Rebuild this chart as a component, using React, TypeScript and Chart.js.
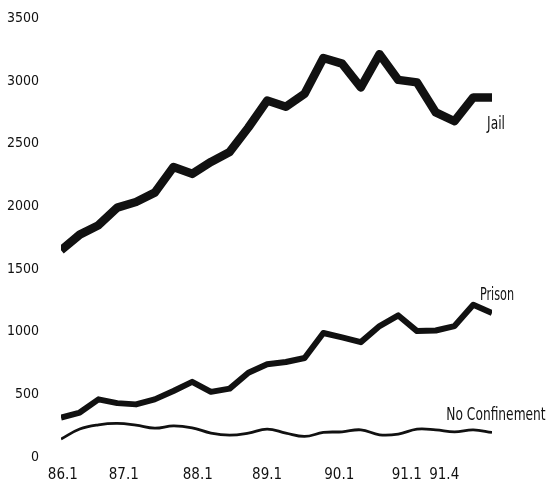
import React, { useEffect, useRef } from "react";
import { Chart, registerables } from "chart.js";

Chart.register(...registerables);

// Quarterly periods (x categories)
const quarters = [
  "86.1", "86.2", "86.3", "86.4",
  "87.1", "87.2", "87.3", "87.4",
  "88.1", "88.2", "88.3", "88.4",
  "89.1", "89.2", "89.3", "89.4",
  "90.1", "90.2", "90.3", "90.4",
  "91.1", "91.2", "91.3", "91.4",
];

const jail = [
  1650, 1775, 1850, 1990, 2035, 2110, 2315, 2260, 2355, 2435, 2630, 2845,
  2795, 2900, 3185, 3140, 2950, 3215, 3010, 2990, 2750, 2680, 2870, 2870,
];
const prison = [
  315, 355, 460, 430, 420, 460, 527, 600, 520, 546, 673, 740,
  758, 790, 990, 955, 917, 1045, 1130, 1005, 1010, 1045, 1215, 1150,
];
const noConfinement = [
  143, 223, 257, 268, 254, 230, 249, 233, 191, 175, 191, 223,
  191, 164, 196, 201, 217, 177, 183, 223, 217, 201, 217, 196,
];

const seriesNames = ["Jail", "Prison", "No Confinement"];

const yTickValues = [0, 500, 1000, 1500, 2000, 2500, 3000, 3500];
const xTickLabels = ["86.1", "87.1", "88.1", "89.1", "90.1", "91.1", "91.4"];
// where the printed tick labels sit along the quarter axis (as printed in the source)
const xTickAt = [0.1, 3.35, 7.3, 11.0, 14.85, 18.45, 20.45];

const FONT = "'Liberation Sans Narrow', 'DejaVu Sans Condensed', 'Arial Narrow', sans-serif";
const INK = "#111111";

const labelPlugin = {
  id: "seriesLabels",
  afterDatasetsDraw(chart: any) {
    const ctx = chart.ctx;
    const offsets = [
      { dx: 4, dy: 27 },
      { dx: 5, dy: -17 },
      { dx: 4, dy: -17 },
    ];
    const sx = [0.85, 0.78, 0.85];
    chart.data.datasets.forEach((ds: any, i: number) => {
      const meta = chart.getDatasetMeta(i);
      const pt = meta.data[meta.data.length - 1];
      if (!pt) return;
      ctx.save();
      ctx.fillStyle = INK;
      ctx.font = `16px ${FONT}`;
      ctx.textAlign = "center";
      ctx.textBaseline = "middle";
      ctx.translate(pt.x + offsets[i].dx, pt.y + offsets[i].dy);
      ctx.scale(sx[i], 1.05);
      ctx.fillText(ds.label, 0, 0);
      ctx.restore();
    });
  },
};

export default function App() {
  const ref = useRef<HTMLCanvasElement | null>(null);

  useEffect(() => {
    if (!ref.current) return;
    const toPts = (arr: number[]) => arr.map((v, i) => ({ x: i, y: v }));
    const chart = new Chart(ref.current, {
      type: "line",
      data: {
        labels: quarters,
        datasets: [
          {
            label: seriesNames[0],
            data: toPts(jail),
            borderColor: INK,
            borderWidth: 8.5,
            pointRadius: 0,
            tension: 0,
            borderJoinStyle: "round",
            borderCapStyle: "butt",
          },
          {
            label: seriesNames[1],
            data: toPts(prison),
            borderColor: INK,
            borderWidth: 6,
            pointRadius: 0,
            tension: 0,
            borderJoinStyle: "round",
            borderCapStyle: "butt",
          },
          {
            label: seriesNames[2],
            data: toPts(noConfinement),
            borderColor: INK,
            borderWidth: 2.8,
            pointRadius: 0,
            tension: 0.4,
            borderJoinStyle: "round",
          },
        ],
      },
      options: {
        animation: false,
        responsive: false,
        layout: { padding: { top: 18.5, right: 55, left: 0, bottom: 0 } },
        plugins: {
          legend: { display: false },
          tooltip: { enabled: false },
        },
        scales: {
          x: {
            type: "linear",
            min: 0,
            max: quarters.length - 1,
            grid: { display: false, drawTicks: false },
            border: { display: false },
            afterFit: (s: any) => {
              s.height = 35;
              s.paddingLeft = 0;
              s.paddingRight = 0;
            },
            afterBuildTicks: (s: any) => {
              s.ticks = xTickAt.map((v) => ({ value: v }));
            },
            ticks: {
              autoSkip: false,
              maxRotation: 0,
              padding: 9,
              color: INK,
              font: { family: FONT, size: 15 },
              callback: (_v: any, idx: number) => xTickLabels[idx],
            },
          },
          y: {
            min: 0,
            max: 3500,
            grid: { display: false, drawTicks: false },
            border: { display: false },
            afterFit: (s: any) => {
              s.width = 61;
              s.paddingTop = 0;
              s.paddingBottom = 0;
            },
            afterBuildTicks: (s: any) => {
              s.ticks = yTickValues.map((v) => ({ value: v }));
            },
            ticks: {
              padding: 22,
              color: INK,
              font: { family: FONT, size: 14 },
              callback: (v: any) => String(v),
            },
          },
        },
      },
      plugins: [labelPlugin],
    });
    return () => chart.destroy();
  }, []);

  return (
    <div style={{ position: "fixed", left: 0, top: 0, width: 547, height: 492, background: "#fff" }}>
      <canvas ref={ref} width={547} height={492} style={{ display: "block" }} />
    </div>
  );
}
